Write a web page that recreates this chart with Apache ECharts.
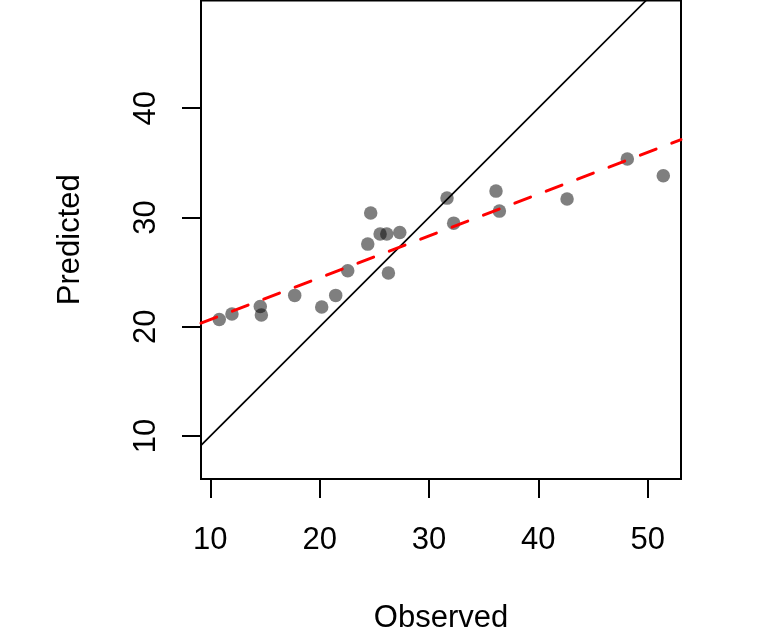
<!DOCTYPE html>
<html>
<head>
<meta charset="utf-8">
<script src="https://cdn.jsdelivr.net/npm/echarts@6/dist/echarts.min.js"></script>
<style>
html,body{margin:0;padding:0;background:#fff;}
#chart{width:768px;height:633px;}
</style>
</head>
<body>
<div id="chart"></div>
<script>
// Data
var observed  = [10.82, 11.98, 14.57, 14.67, 17.72, 20.19, 21.47, 22.57, 24.40, 24.67, 25.53, 26.14, 26.29, 27.33, 31.65, 32.26, 36.13, 36.44, 42.63, 48.14, 51.43];
var predicted = [20.67, 21.16, 21.86, 21.07, 22.87, 21.80, 22.87, 25.13, 27.56, 30.40, 28.48, 28.48, 24.91, 28.63, 31.77, 29.48, 32.41, 30.58, 31.68, 35.34, 33.81];
var xTicks = [10, 20, 30, 40, 50];
var yTicks = [10, 20, 30, 40];
// fitted regression line (dashed red): predicted = regIntercept + regSlope * observed
var regIntercept = 16.83;
var regSlope = 0.3825;
// 1:1 reference line
var oneToOneIntercept = 0;
var oneToOneSlope = 1;

var xMin = 9.15, xMax = 53.05, yMin = 6.07, yMax = 49.85;

var points = observed.map(function (o, i) { return [o, predicted[i]]; });
function lineData(a, b) { return [[xMin, a + b * xMin], [xMax, a + b * xMax]]; }

var font = 'Liberation Sans, Arial, sans-serif';
var chart = echarts.init(document.getElementById('chart'));
chart.setOption({
  animation: false,
  backgroundColor: '#fff',
  grid: { left: 201, top: 0.5, width: 480, height: 478.5, show: true, borderColor: '#000', borderWidth: 2, backgroundColor: 'transparent', containLabel: false, outerBoundsMode: 'none' },
  xAxis: {
    type: 'value', min: xMin, max: xMax,
    axisLine: { show: false },
    splitLine: { show: false },
    axisTick: { show: true, length: 19, lineStyle: { color: '#000', width: 2 }, customValues: xTicks },
    axisLabel: { customValues: xTicks, fontSize: 31, color: '#000', fontFamily: font, margin: 46 },
    name: 'Observed', nameLocation: 'middle', nameGap: 124,
    nameTextStyle: { fontSize: 31, color: '#000', fontFamily: font }
  },
  yAxis: {
    type: 'value', min: yMin, max: yMax,
    axisLine: { show: false },
    splitLine: { show: false },
    axisTick: { show: true, length: 19, lineStyle: { color: '#000', width: 2 }, customValues: yTicks },
    axisLabel: { customValues: yTicks, rotate: 90, fontSize: 31, color: '#000', fontFamily: font, margin: 39 },
    name: 'Predicted', nameLocation: 'middle', nameRotate: 90, nameGap: 115,
    nameTextStyle: { fontSize: 31, color: '#000', fontFamily: font }
  },
  series: [
    {
      type: 'scatter', data: points, symbol: 'circle', symbolSize: 13.5, z: 2,
      itemStyle: { color: 'rgba(0,0,0,0.5)', opacity: 1 }, silent: true
    },
    {
      type: 'line', data: lineData(oneToOneIntercept, oneToOneSlope), showSymbol: false, symbol: 'none', clip: true, z: 3,
      lineStyle: { color: '#000', width: 1.7 }, silent: true
    },
    {
      type: 'line', data: lineData(regIntercept, regSlope), showSymbol: false, symbol: 'none', clip: true, z: 4,
      lineStyle: { color: '#ff0000', width: 3, type: [16.8, 16.8], cap: 'round' }, silent: true
    }
  ]
});
</script>
</body>
</html>
